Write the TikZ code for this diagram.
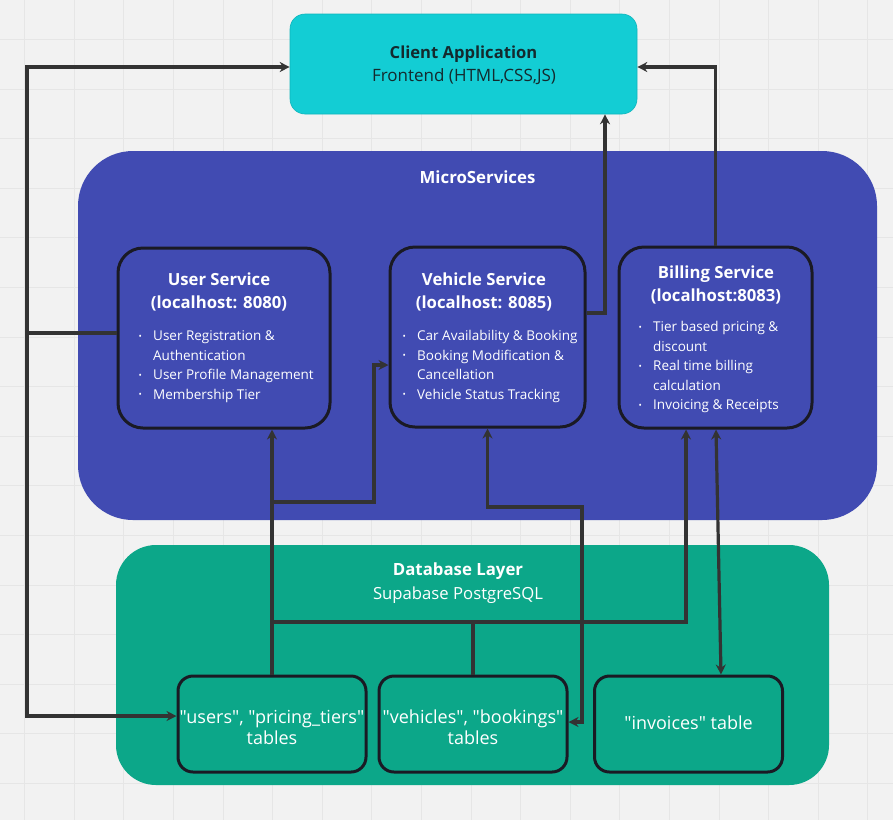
\documentclass[tikz,border=0pt]{standalone}
\usepackage{fontspec}
\usepackage{graphicx}
\setmainfont{Open Sans}[Ligatures=TeXOff]
\usetikzlibrary{arrows.meta}
\definecolor{bgc}{HTML}{F2F2F2}
\definecolor{gridc}{HTML}{E6E6E6}
\definecolor{cyanc}{HTML}{13CDD4}
\definecolor{cyanb}{HTML}{10B5BC}
\definecolor{indigoc}{HTML}{414BB2}
\definecolor{greenc}{HTML}{0CA789}
\definecolor{linec}{HTML}{333333}
\definecolor{borderc}{HTML}{1A1A24}
\definecolor{darktext}{HTML}{142A2E}
\newcommand{\bul}{\makebox[15pt][l]{\hspace{0.5pt}\raisebox{1.4pt}{\scalebox{0.65}{•}}}}
\newcommand{\ind}{\hspace*{15pt}}
\begin{document}
\begin{tikzpicture}[x=1pt,y=-1pt,
  conn/.style={draw=linec, line width=3.2pt},
  arr/.style={conn, -{Stealth[length=10pt,width=10pt]}},
  darr/.style={conn, {Stealth[length=10pt,width=10pt]}-{Stealth[length=10pt,width=10pt]}},
  svc/.style={draw=borderc, line width=3pt, rounded corners=25pt, fill=indigoc, inner sep=0pt},
  tbl/.style={draw=borderc, line width=3pt, rounded corners=15pt, fill=greenc, minimum width=188pt, minimum height=96pt, inner sep=0pt},
  tbltext/.style={text=white, font=\fontsize{18}{21}\selectfont, align=center, inner sep=0pt},
  ttl/.style={font=\bfseries\fontsize{16.7}{23}\selectfont, text=white, align=center, inner sep=0pt},
  blist/.style={font=\fontsize{13.5}{19.5}\selectfont, text=white, align=left, inner sep=0pt, anchor=west},
]
\fill[bgc] (0,0) rectangle (893,820);
\useasboundingbox (0,0) rectangle (893,820);
\foreach \i in {0,...,17} \draw[gridc, line width=1pt] (24.6+49.6*\i,0) -- (24.6+49.6*\i,820);
\foreach \j in {0,...,16} \draw[gridc, line width=1pt] (0,39.4+49.6*\j) -- (893,39.4+49.6*\j);

% containers
\node[draw=cyanb, line width=0.6pt, fill=cyanc, rounded corners=15pt, minimum width=347pt, minimum height=100pt, inner sep=0pt] (client) at (463.5,64) {};
\node[fill=indigoc, rounded corners=55pt, minimum width=799pt, minimum height=369pt, inner sep=0pt] (micro) at (477.5,335.5) {};
\node[fill=greenc, rounded corners=40pt, minimum width=713pt, minimum height=240pt, inner sep=0pt] (db) at (472.5,665) {};

% texts of containers
\node[font=\bfseries\fontsize{16.6}{18}\selectfont, text=darktext, inner sep=0pt] (clientT) at (463.5,54) {Client Application};
\node[font=\fontsize{17}{18}\selectfont, text=darktext, inner sep=0pt] (clientS) at (464,77) {Frontend (HTML,CSS,JS)};
\node[font=\bfseries\fontsize{16.8}{18}\selectfont, text=white, inner sep=0pt] (microT) at (477.5,177) {MicroServices};
\node[font=\bfseries\fontsize{16.8}{18}\selectfont, text=white, inner sep=0pt] (dbT) at (458,571) {Database Layer};
\node[font=\fontsize{16.7}{18}\selectfont, text=white, inner sep=0pt] (dbS) at (458,595) {Supabase PostgreSQL};

% services
\node[svc, minimum width=212pt, minimum height=180pt] (us) at (224,338) {};
\node[svc, minimum width=195pt, minimum height=180pt] (vs) at (487.5,337) {};
\node[svc, minimum width=193pt, minimum height=181pt] (bs) at (715.5,337.5) {};

\node[ttl] (usT) at (219,291.5) {User Service\\(localhost: 8080)};
\node[ttl] (vsT) at (484,291.5) {Vehicle Service\\(localhost: 8085)};
\node[ttl] (bsT) at (716,284.5) {Billing Service\\(localhost:8083)};

\node[blist] (usB) at (138,366.5) {\bul User Registration \&\\\ind Authentication\\\bul User Profile Management\\\bul Membership Tier};
\node[blist] (vsB) at (402,366.5) {\bul Car Availability \& Booking\\\bul Booking Modification \&\\\ind Cancellation\\\bul Vehicle Status Tracking};
\node[blist] (bsB) at (638,367) {\bul Tier based pricing \&\\\ind discount\\\bul Real time billing\\\ind calculation\\\bul Invoicing \& Receipts};

% tables
\node[tbl] (users) at (272,724) {};
\node[tbl] (vehicles) at (473,724) {};
\node[tbl] (invoices) at (688.5,724) {};
\node[tbltext] (usersT) at (272,727) {"users", "pricing\_tiers"\\tables};
\node[tbltext] (vehiclesT) at (473,727) {"vehicles", "bookings"\\tables};
\node[tbltext] (invoicesT) at (688.5,723) {"invoices" table};

% connectors
\coordinate (jl) at (27,333);
\draw[arr] ([yshift=5pt]us.west) -- (jl) |- ([yshift=-3pt]client.west);
\draw[arr] (jl) |- ([yshift=8pt]users.west);

\draw[arr] (users.north) -- (users.north |- us.south);
\coordinate (b1) at (272,502);
\draw[arr] (b1) -- (374,502) |- ([yshift=-28pt]vs.west);

\coordinate (c1) at (272,622);
\draw[arr] (c1) -- (686,622) -- ([xshift=-29.5pt]bs.south);
\draw[conn] (vehicles.north) -- (vehicles.north |- c1);

\draw[darr] (vs.south) -- (487.5,507) -| (582,722) -- ([yshift=2pt]vehicles.east);

\draw[arr] ([yshift=24pt]vs.east) -| ([xshift=141.5pt]client.south);
\draw[arr] (bs.north) |- ([yshift=-3pt]client.east);

\draw[darr] ([xshift=0.5pt]bs.south) -- ([xshift=32.5pt]invoices.north);
\end{tikzpicture}
\end{document}
